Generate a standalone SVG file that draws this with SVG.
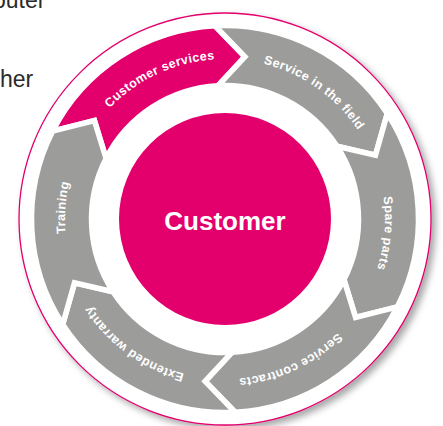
<svg xmlns="http://www.w3.org/2000/svg" xmlns:xlink="http://www.w3.org/1999/xlink" width="443" height="426" viewBox="0 0 443 426">
<style>
.seg{stroke:#fff;stroke-width:5.5;stroke-linejoin:miter}
.gray{fill:#9c9d9b}
.pink{fill:#e3006d}
.lbl{font-family:"Liberation Sans",Arial,sans-serif;font-weight:bold;font-size:12.5px;fill:#fff;letter-spacing:0.4px}
.doc{font-family:"Liberation Sans",Arial,sans-serif;font-size:23px;fill:#2a2a2a}
</style>
<defs>
<filter id="sh" x="-10%" y="-10%" width="125%" height="125%">
<feGaussianBlur in="SourceAlpha" stdDeviation="3.5"/>
<feOffset dx="4" dy="4" result="b"/>
<feFlood flood-color="#000" flood-opacity="0.35"/>
<feComposite in2="b" operator="in"/>
<feMerge><feMergeNode/><feMergeNode in="SourceGraphic"/></feMerge>
</filter>
<path id="ring" d="M225,379 A160,160 0 1 1 225,59 A160,160 0 1 1 225,379"/>
</defs>
<text class="doc" x="-7" y="8">outer</text>
<text class="doc" x="0" y="87">her</text>
<g id="outer">
<circle cx="225" cy="219" r="206" fill="#fff" stroke="#e3006d" stroke-width="1.3" filter="url(#sh)"/>
</g>
<g id="customer-services">
<path class="seg pink" d="M52.59,131.15 A193.5,193.5 0 0 1 214.88,25.77 L244.93,56.73 L218.02,85.69 A133.5,133.5 0 0 0 106.05,158.39 L94.43,120.61 Z"/>
<text class="lbl"><textPath xlink:href="#ring" startOffset="432.9" text-anchor="middle">Customer services</textPath></text>
</g>
<g id="service-in-the-field">
<path class="seg gray" d="M214.88,25.77 A193.5,193.5 0 0 1 387.29,113.62 L375.50,155.12 L336.97,146.30 A133.5,133.5 0 0 0 218.02,85.69 L244.93,56.73 Z"/>
<text class="lbl"><textPath xlink:href="#ring" startOffset="600.4" text-anchor="middle">Service in the field</textPath></text>
</g>
<g id="spare-parts">
<path class="seg gray" d="M387.29,113.62 A193.5,193.5 0 0 1 397.41,306.85 L355.57,317.39 L343.95,279.61 A133.5,133.5 0 0 0 336.97,146.30 L375.50,155.12 Z"/>
<text class="lbl"><textPath xlink:href="#ring" startOffset="767.9" text-anchor="middle">Spare parts</textPath></text>
</g>
<g id="service-contracts">
<path class="seg gray" d="M397.41,306.85 A193.5,193.5 0 0 1 235.12,412.23 L205.07,381.27 L231.98,352.31 A133.5,133.5 0 0 0 343.95,279.61 L355.57,317.39 Z"/>
<text class="lbl"><textPath xlink:href="#ring" startOffset="935.5" text-anchor="middle">Service contracts</textPath></text>
</g>
<g id="extended-warranty">
<path class="seg gray" d="M235.12,412.23 A193.5,193.5 0 0 1 62.71,324.38 L74.50,282.88 L113.03,291.70 A133.5,133.5 0 0 0 231.98,352.31 L205.07,381.27 Z"/>
<text class="lbl"><textPath xlink:href="#ring" startOffset="100.5" text-anchor="middle">Extended warranty</textPath></text>
</g>
<g id="training">
<path class="seg gray" d="M62.71,324.38 A193.5,193.5 0 0 1 52.59,131.15 L94.43,120.61 L106.05,158.39 A133.5,133.5 0 0 0 113.03,291.70 L74.50,282.88 Z"/>
<text class="lbl"><textPath xlink:href="#ring" startOffset="262.5" text-anchor="middle">Training</textPath></text>
</g>
<g id="customer">
<circle cx="225" cy="219" r="106" fill="#e3006d"/>
<text x="225" y="230" text-anchor="middle" font-family="Liberation Sans, Arial, sans-serif" font-weight="bold" font-size="26" fill="#fff">Customer</text>
</g>
</svg>
